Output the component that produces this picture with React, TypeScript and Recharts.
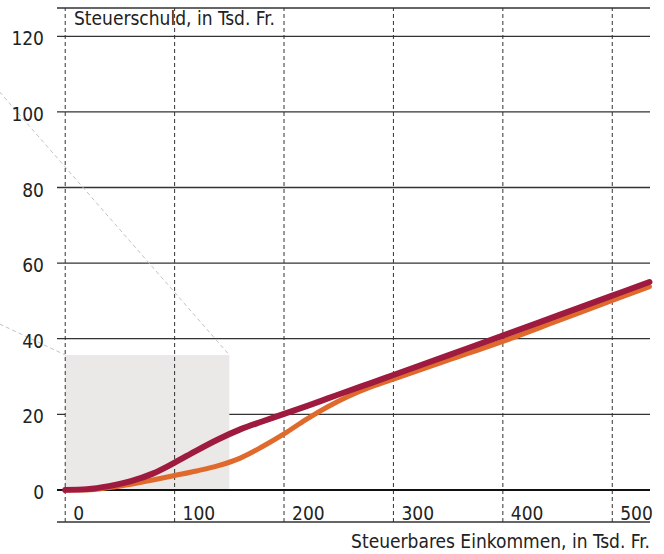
import React from "react";
import {
  LineChart,
  Line,
  XAxis,
  YAxis,
  CartesianGrid,
  ReferenceLine,
  ReferenceArea,
} from "recharts";

// Steuerbares Einkommen (Tsd. Fr.)
const incomes = [0, 20, 40, 60, 80, 100, 120, 140, 160, 180, 200, 220, 240, 260, 280, 300, 350, 400, 450, 500, 534];
// Steuerschuld (Tsd. Fr.)
const crimsonValues = [0, 0.2, 1, 2.3, 4.3, 7.2, 10.4, 13.4, 16.0, 18.1, 20.1, 22.1, 24.2, 26.3, 28.3, 30.4, 35.6, 40.8, 46.1, 51.4, 55.0];
const orangeValues = [0, 0, 0.6, 1.5, 2.6, 3.8, 5, 6.4, 8.4, 11.4, 14.8, 18.6, 22.0, 24.9, 27.3, 29.3, 34.3, 39.3, 44.7, 50.1, 53.8];

const xTicks = [0, 100, 200, 300, 400, 500];
const yTicks = [0, 20, 40, 60, 80, 100, 120];

// zoom box (detail area) and its connector lines
const zoomBox = { x1: 0, x2: 150, y1: 0, y2: 35.7 };
const zoomUpper = [{ x: -60, y: 105.3 }, { x: 150, y: 35.7 }];
const zoomLower = [{ x: -60, y: 43.9 }, { x: 0, y: 35.7 }];

const FONT = "'Liberation Sans Narrow', 'DejaVu Sans Condensed', 'Roboto', sans-serif";
const TEXT = "#222";

const data = incomes.map((inc, i) => ({
  income: inc,
  crimson: crimsonValues[i],
  orange: orangeValues[i],
}));

const YTick = (props: any) => {
  const { x, y, payload } = props;
  return (
    <text x={x} y={y + 9} textAnchor="end" fontSize={19} fontFamily={FONT} fill={TEXT}>
      {payload.value}
    </text>
  );
};

const XTick = (props: any) => {
  const { x, y, payload } = props;
  return (
    <text x={x + 8} y={y - 2} textAnchor="start" fontSize={19} fontFamily={FONT} fill={TEXT}>
      {payload.value}
    </text>
  );
};

export default function App() {
  return (
    <div style={{ position: "absolute", left: 0, top: 0, width: 664, height: 554 }}>
      <LineChart
        width={664}
        height={554}
        data={data}
        margin={{ top: 8, right: 14, left: 0, bottom: 0 }}
      >
        <ReferenceArea
          x1={zoomBox.x1}
          x2={zoomBox.x2}
          y1={zoomBox.y1}
          y2={zoomBox.y2}
          fill="#ebe9e7"
          fillOpacity={1}
          stroke="none"
        />
        <CartesianGrid vertical={false} stroke="#333" strokeWidth={1.3} />
        {xTicks.map((t) => (
          <ReferenceLine key={t} x={t} stroke="#333" strokeDasharray="4 3" strokeWidth={1} />
        ))}
        <ReferenceLine y={0} stroke="#111" strokeWidth={2} />
        <ReferenceLine
          segment={zoomUpper}
          stroke="#c4c2c0"
          strokeDasharray="4 3"
          ifOverflow="visible"
        />
        <ReferenceLine
          segment={zoomLower}
          stroke="#c4c2c0"
          strokeDasharray="4 3"
          ifOverflow="visible"
        />
        <XAxis
          dataKey="income"
          type="number"
          domain={[-7.5, 534.5]}
          ticks={xTicks}
          interval={0}
          height={32}
          tickSize={0}
          tickMargin={0}
          axisLine={false}
          tickLine={false}
          tick={<XTick />}
        />
        <YAxis
          type="number"
          domain={[-8.5, 127.5]}
          ticks={yTicks}
          interval={0}
          width={57}
          tickSize={0}
          tickMargin={13}
          axisLine={false}
          tickLine={false}
          tick={<YTick />}
        />
        <Line
          type="monotone"
          dataKey="orange"
          stroke="#e0692c"
          strokeWidth={5}
          strokeLinecap="round"
          strokeLinejoin="round"
          dot={false}
          activeDot={false}
          isAnimationActive={false}
        />
        <Line
          type="monotone"
          dataKey="crimson"
          stroke="#9e1a3e"
          strokeWidth={6}
          strokeLinecap="round"
          strokeLinejoin="round"
          dot={false}
          activeDot={false}
          isAnimationActive={false}
        />
      </LineChart>
      <svg
        width={664}
        height={554}
        style={{ position: "absolute", left: 0, top: 0, pointerEvents: "none" }}
      >
        <text x={74} y={25} fontSize={19} fontFamily={FONT} fill={TEXT}>
          Steuerschuld, in Tsd. Fr.
        </text>
        <text x={650} y={548} textAnchor="end" fontSize={19} fontFamily={FONT} fill={TEXT}>
          Steuerbares Einkommen, in Tsd. Fr.
        </text>
      </svg>
    </div>
  );
}
